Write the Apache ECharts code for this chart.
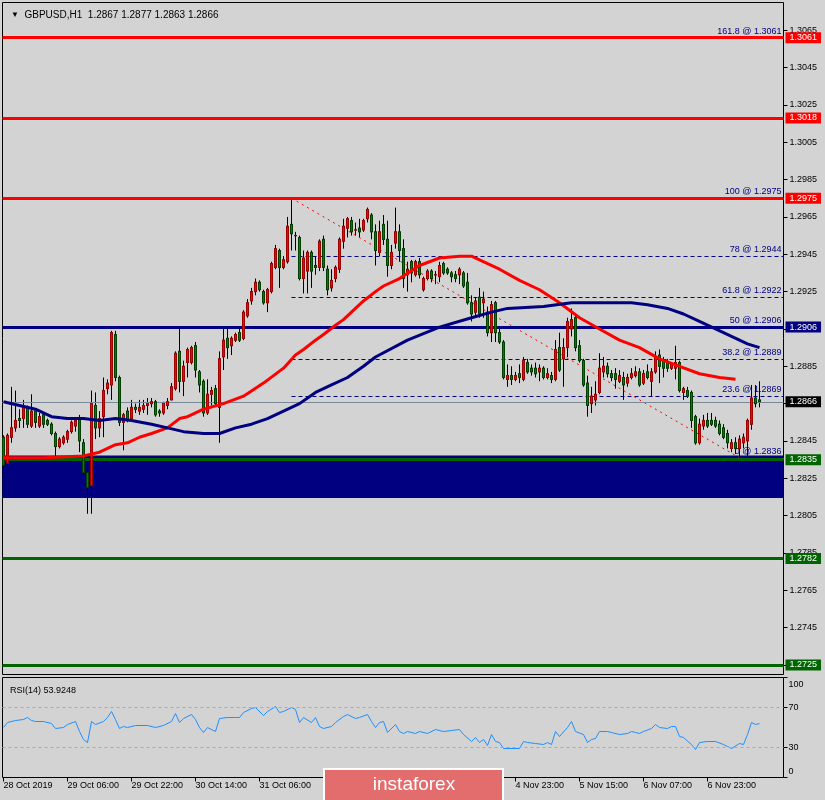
<!DOCTYPE html>
<html><head><meta charset="utf-8">
<script src="https://cdn.jsdelivr.net/npm/echarts@6/dist/echarts.min.js"></script>
<style>html,body{margin:0;padding:0;background:#d3d3d3}#c{width:825px;height:800px}</style>
</head><body><div id="c"></div>
<script>
const symbol = 'GBPUSD,H1';
// H1 bars: [open, close, low, high]
const bars = [
[1.2847,1.2832,1.2828,1.2848],[1.2833,1.2848,1.2828,1.2849],[1.2847,1.2852,1.2844,1.2874],[1.2852,1.2856,1.2850,1.2872],
[1.2857,1.2856,1.2852,1.2862],[1.2857,1.2863,1.2852,1.2867],[1.2863,1.2854,1.2852,1.2864],[1.2853,1.2861,1.2852,1.2870],
[1.2861,1.2855,1.2852,1.2862],[1.2853,1.2858,1.2852,1.2860],[1.2859,1.2854,1.2852,1.2860],[1.2856,1.2854,1.2853,1.2857],
[1.2854,1.2849,1.2848,1.2855],[1.2849,1.2842,1.2834,1.2850],[1.2842,1.2846,1.2841,1.2847],[1.2844,1.2847,1.2843,1.2848],
[1.2846,1.2850,1.2844,1.2851],[1.2850,1.2855,1.2849,1.2856],[1.2853,1.2856,1.2850,1.2857],[1.2857,1.2845,1.2839,1.2859],
[1.2844,1.2828,1.2826,1.2846],[1.2828,1.2820,1.2806,1.2838],[1.2821,1.2865,1.2806,1.2872],[1.2864,1.2852,1.2846,1.2871],
[1.2852,1.2857,1.2847,1.2861],[1.2858,1.2872,1.2847,1.2879],[1.2873,1.2876,1.2870,1.2878],[1.2875,1.2903,1.2867,1.2904],
[1.2902,1.2879,1.2877,1.2904],[1.2879,1.2855,1.2853,1.2880],[1.2855,1.2859,1.2840,1.2860],[1.2861,1.2856,1.2855,1.2863],
[1.2857,1.2863,1.2856,1.2867],[1.2863,1.2862,1.2860,1.2865],[1.2861,1.2863,1.2859,1.2867],[1.2862,1.2864,1.2860,1.2867],
[1.2864,1.2865,1.2859,1.2868],[1.2865,1.2866,1.2863,1.2868],[1.2866,1.2859,1.2858,1.2867],[1.2861,1.2860,1.2858,1.2862],
[1.2860,1.2865,1.2859,1.2866],[1.2864,1.2866,1.2862,1.2868],[1.2867,1.2874,1.2867,1.2876],[1.2873,1.2892,1.2872,1.2893],
[1.2893,1.2877,1.2871,1.2905],[1.2877,1.2885,1.2869,1.2888],[1.2887,1.2894,1.2879,1.2895],[1.2887,1.2895,1.2886,1.2896],
[1.2896,1.2883,1.2879,1.2898],[1.2882,1.2875,1.2871,1.2883],[1.2877,1.2860,1.2858,1.2878],[1.2860,1.2870,1.2859,1.2878],
[1.2870,1.2872,1.2864,1.2874],[1.2873,1.2865,1.2864,1.2875],[1.2863,1.2889,1.2844,1.2893],[1.2890,1.2899,1.2883,1.2906],
[1.2900,1.2895,1.2889,1.2905],[1.2896,1.2900,1.2891,1.2901],[1.2899,1.2902,1.2898,1.2903],[1.2903,1.2899,1.2898,1.2906],
[1.2900,1.2914,1.2899,1.2915],[1.2912,1.2919,1.2911,1.2921],[1.2920,1.2925,1.2918,1.2927],[1.2925,1.2930,1.2923,1.2932],
[1.2930,1.2926,1.2925,1.2931],[1.2925,1.2919,1.2918,1.2926],[1.2919,1.2926,1.2914,1.2927],[1.2925,1.2940,1.2924,1.2941],
[1.2938,1.2948,1.2937,1.2950],[1.2947,1.2938,1.2927,1.2948],[1.2938,1.2942,1.2937,1.2944],[1.2941,1.2960,1.2940,1.2965],
[1.2961,1.2956,1.2947,1.2975],[1.2955,1.2955,1.2947,1.2957],[1.2954,1.2932,1.2931,1.2955],[1.2932,1.2943,1.2924,1.2947],
[1.2936,1.2946,1.2924,1.2947],[1.2946,1.2936,1.2927,1.2947],[1.2939,1.2938,1.2934,1.2944],[1.2938,1.2952,1.2936,1.2953],
[1.2953,1.2938,1.2936,1.2955],[1.2937,1.2926,1.2923,1.2939],[1.2927,1.2931,1.2925,1.2937],[1.2932,1.2938,1.2930,1.2939],
[1.2937,1.2953,1.2935,1.2954],[1.2952,1.2960,1.2948,1.2964],[1.2959,1.2964,1.2954,1.2965],[1.2963,1.2957,1.2955,1.2965],
[1.2958,1.2958,1.2955,1.2962],[1.2959,1.2957,1.2954,1.2964],[1.2958,1.2963,1.2957,1.2964],[1.2964,1.2969,1.2962,1.2970],
[1.2966,1.2957,1.2953,1.2967],[1.2957,1.2947,1.2939,1.2961],[1.2946,1.2957,1.2944,1.2963],[1.2961,1.2953,1.2950,1.2966],
[1.2953,1.2939,1.2933,1.2963],[1.2939,1.2946,1.2937,1.2950],[1.2951,1.2957,1.2948,1.2970],[1.2957,1.2947,1.2941,1.2961],
[1.2948,1.2932,1.2927,1.2953],[1.2934,1.2937,1.2925,1.2941],[1.2941,1.2935,1.2930,1.2942],[1.2934,1.2941,1.2933,1.2942],
[1.2941,1.2934,1.2932,1.2943],[1.2926,1.2932,1.2925,1.2933],[1.2932,1.2936,1.2931,1.2937],[1.2936,1.2932,1.2930,1.2937],
[1.2934,1.2934,1.2929,1.2936],[1.2933,1.2939,1.2930,1.2941],[1.2940,1.2935,1.2934,1.2941],[1.2937,1.2935,1.2934,1.2938],
[1.2935,1.2933,1.2930,1.2936],[1.2934,1.2932,1.2930,1.2936],[1.2934,1.2937,1.2929,1.2938],[1.2935,1.2928,1.2927,1.2936],
[1.2930,1.2919,1.2918,1.2935],[1.2919,1.2913,1.2909,1.2923],[1.2914,1.2920,1.2911,1.2922],[1.2922,1.2913,1.2911,1.2927],
[1.2919,1.2921,1.2911,1.2925],[1.2914,1.2903,1.2901,1.2917],[1.2903,1.2918,1.2898,1.2920],[1.2919,1.2903,1.2898,1.2920],
[1.2903,1.2898,1.2897,1.2905],[1.2898,1.2879,1.2878,1.2899],[1.2878,1.2880,1.2874,1.2886],[1.2880,1.2878,1.2875,1.2885],
[1.2878,1.2880,1.2877,1.2882],[1.2881,1.2879,1.2876,1.2886],[1.2878,1.2888,1.2877,1.2890],[1.2887,1.2882,1.2881,1.2889],
[1.2884,1.2882,1.2880,1.2886],[1.2884,1.2881,1.2879,1.2887],[1.2882,1.2884,1.2877,1.2886],[1.2884,1.2879,1.2878,1.2885],
[1.2879,1.2881,1.2878,1.2884],[1.2880,1.2878,1.2876,1.2882],[1.2878,1.2894,1.2877,1.2899],[1.2895,1.2883,1.2882,1.2903],
[1.2889,1.2895,1.2874,1.2900],[1.2895,1.2909,1.2890,1.2911],[1.2905,1.2910,1.2901,1.2916],[1.2911,1.2895,1.2893,1.2913],
[1.2896,1.2888,1.2887,1.2899],[1.2888,1.2875,1.2874,1.2889],[1.2876,1.2864,1.2858,1.2880],[1.2865,1.2869,1.2860,1.2874],
[1.2867,1.2870,1.2864,1.2877],[1.2871,1.2884,1.2870,1.2892],[1.2882,1.2885,1.2879,1.2890],[1.2885,1.2881,1.2879,1.2887],
[1.2881,1.2879,1.2877,1.2883],[1.2881,1.2878,1.2873,1.2884],[1.2877,1.2880,1.2876,1.2883],[1.2879,1.2875,1.2867,1.2882],
[1.2876,1.2879,1.2874,1.2881],[1.2879,1.2881,1.2878,1.2884],[1.2880,1.2882,1.2879,1.2885],[1.2882,1.2875,1.2874,1.2884],
[1.2876,1.2881,1.2875,1.2883],[1.2882,1.2879,1.2878,1.2886],[1.2877,1.2882,1.2869,1.2884],[1.2882,1.2890,1.2881,1.2893],
[1.2891,1.2885,1.2876,1.2894],[1.2888,1.2884,1.2879,1.2890],[1.2887,1.2884,1.2882,1.2889],[1.2884,1.2886,1.2883,1.2887],
[1.2884,1.2887,1.2878,1.2896],[1.2887,1.2872,1.2871,1.2888],[1.2871,1.2873,1.2867,1.2874],[1.2872,1.2869,1.2868,1.2874],
[1.2871,1.2856,1.2852,1.2872],[1.2858,1.2844,1.2843,1.2859],[1.2844,1.2854,1.2843,1.2857],[1.2853,1.2856,1.2851,1.2859],
[1.2856,1.2853,1.2852,1.2860],[1.2856,1.2854,1.2853,1.2860],[1.2856,1.2853,1.2852,1.2858],[1.2854,1.2849,1.2848,1.2856],
[1.2852,1.2847,1.2846,1.2854],[1.2849,1.2844,1.2841,1.2851],[1.2841,1.2844,1.2839,1.2846],[1.2844,1.2841,1.2838,1.2847],
[1.2841,1.2846,1.2836,1.2848],[1.2844,1.2847,1.2841,1.2849],[1.2845,1.2856,1.2837,1.2857],[1.2854,1.2868,1.2851,1.2875],
[1.2868,1.2865,1.2863,1.2875],[1.2867,1.2866,1.2863,1.2877]
];
// moving averages as [bar index, price]
const maRed = [[0,1.2836],[10,1.2836],[20,1.2837],[24,1.2839],[26,1.2841],[28,1.2843],[31,1.2844],[34,1.2847],[37,1.2849],[41,1.2852],[44,1.2857],[46,1.2858],[50,1.2862],[55,1.2865],[60,1.2869],[65,1.2876],[70,1.2884],[73,1.2891],[75,1.2894],[78,1.2899],[80,1.2902],[83,1.2907],[85,1.2910],[88,1.2916],[90,1.2920],[93,1.2925],[95,1.2928],[99,1.2932],[104,1.2939],[109,1.2943],[114,1.2944],[117,1.2944],[119,1.2942],[124,1.2937],[129,1.2931],[134,1.2926],[139,1.2919],[144,1.2911],[149,1.2905],[154,1.2899],[159,1.2895],[164,1.2889],[169,1.2885],[174,1.2881],[179,1.2879],[183,1.2878]];
const maNavy = [[0,1.2866],[4,1.2864],[8,1.2862],[12,1.2858],[16,1.2857],[20,1.2857],[24,1.2856],[28,1.2857],[32,1.2856],[37,1.2854],[41,1.2852],[45,1.2850],[50,1.2849],[54,1.2849],[58,1.2852],[62,1.2854],[66,1.2857],[70,1.2861],[74,1.2865],[78,1.2871],[82,1.2875],[86,1.2879],[90,1.2885],[93,1.2890],[101,1.2899],[109,1.2906],[117,1.2911],[122,1.2914],[126,1.2916],[135,1.2917],[142,1.2919],[149,1.2919],[157,1.2919],[161,1.2918],[166,1.2916],[170,1.2913],[174,1.2909],[178,1.2905],[182,1.2901],[186,1.2897],[189,1.2895]];
// RSI(14) as [bar index, value]
const rsi = [[0,50],[1,55],[3,57],[5,58],[6,60],[7,57],[8,56],[10,56],[12,54],[13,49],[15,50],[16,53],[18,56],[19,46],[20,38],[21,35],[22,56],[23,53],[25,56],[26,60],[27,66],[28,58],[29,49],[30,51],[31,50],[33,52],[36,52],[38,50],[40,52],[42,56],[43,64],[44,55],[45,59],[47,63],[48,58],[49,50],[50,45],[51,50],[53,46],[54,59],[56,60],[58,60],[59,60],[60,65],[62,69],[63,70],[65,62],[66,66],[68,71],[69,65],[70,66],[72,70],[73,68],[74,55],[75,60],[77,55],[78,60],[79,51],[80,49],[82,51],[83,55],[85,61],[86,63],[88,59],[89,60],[91,63],[92,56],[93,50],[94,55],[95,56],[96,45],[98,53],[99,46],[100,44],[101,46],[103,44],[104,46],[106,44],[108,48],[110,46],[112,47],[114,48],[115,43],[117,36],[118,40],[119,35],[120,38],[121,32],[122,43],[123,36],[124,35],[125,29],[129,29],[130,36],[131,35],[133,34],[135,33],[136,35],[137,33],[138,46],[139,41],[141,50],[142,56],[143,46],[145,43],[146,35],[147,38],[148,39],[149,46],[151,46],[152,45],[154,43],[156,44],[157,46],[158,45],[159,44],[160,46],[162,49],[163,53],[164,50],[166,49],[167,51],[168,51],[169,41],[170,40],[172,33],[173,28],[174,35],[176,36],[178,36],[180,33],[181,31],[182,29],[184,34],[185,33],[186,43],[187,55],[188,53],[189,53.9248]];
const rsiLast = 53.9248;
const timeTickIdx = [0,16,32,48,64,80,96,112,128,144,160,176];
const timeTickLabels = ['28 Oct 2019','29 Oct 06:00','29 Oct 22:00','30 Oct 14:00','31 Oct 06:00','31 Oct 22:00','1 Nov 14:00','4 Nov 07:00','4 Nov 23:00','5 Nov 15:00','6 Nov 07:00','6 Nov 23:00'];
const priceTicks = [1.2725,1.2745,1.2765,1.2785,1.2805,1.2825,1.2845,1.2865,1.2885,1.2905,1.2925,1.2945,1.2965,1.2985,1.3005,1.3025,1.3045,1.3065];
const rsiTicks = [0,30,70,100];
const rsiLevels = [70,30];
const redLevels = [1.3061,1.3018,1.2975];
const navyLevels = [1.2906];
const greenLevels = [1.2835,1.2782,1.2725];
const lastPrice = 1.2866;
const zoneTop = 1.28372, zoneBottom = 1.28145;
const fibLevels = ['161.8','100','78','61.8','50','38.2','23.6','0'];
const fibPrices = [1.3061,1.2975,1.2944,1.2922,1.2906,1.2889,1.2869,1.2836];
const fibFrom = 72, fibTo = 184;

const F = '"Liberation Sans", Arial, sans-serif';
const xMin = -0.25, xMax = 195;
const yMin = 1.271992, yMax = 1.307985;

const chart = echarts.init(document.getElementById('c'), null, {renderer:'canvas'});
function lvl(v, color, width, box) {
  return [
    {coord: [xMin, v], lineStyle: {color: color, width: width, type: 'solid'},
     label: {show: true, position: 'end', formatter: v.toFixed(4), backgroundColor: box || color,
       color: '#ffffff', fontSize: 9, fontFamily: F, lineHeight: 11, padding: [0,4,0,4], distance: 2}},
    {coord: [xMax, v]}
  ];
}
const fibLines = fibLevels.map((lv, i) => [
  {coord: [fibFrom, fibPrices[i]],
   lineStyle: {color: i === fibLevels.length - 1 ? '#eeeeee' : '#000080', width: 1, type: [4,3]},
   label: {show: true, position: 'insideEndTop', formatter: lv + ' @ ' + fibPrices[i].toFixed(4),
     color: '#000080', fontSize: 9, fontFamily: F, distance: [2,2]}},
  {coord: [xMax, fibPrices[i]]}
]);
fibLines.push([
  {coord: [fibFrom, fibPrices[1]], lineStyle: {color: '#ff0000', width: 1, type: [2,4]}, label: {show: false}},
  {coord: [fibTo, fibPrices[fibPrices.length - 1]]}
]);
const last = bars[bars.length - 1];
const option = {
  backgroundColor: '#d3d3d3',
  animation: false,
  title: [
    {text: '{t|▼}  ' + symbol + '  ' + last[0].toFixed(4) + ' ' + last[3].toFixed(4) + ' ' + last[2].toFixed(4) + ' ' + last[1].toFixed(4),
     left: 6, top: 5, textStyle: {fontSize: 10, fontFamily: F, fontWeight: 'normal', color: '#000', rich: {t: {fontSize: 8, fontFamily: F, color: '#000'}}}},
    {text: 'RSI(14) ' + rsiLast.toFixed(4), left: 5, top: 681, textStyle: {fontSize: 9, fontFamily: F, fontWeight: 'normal', color: '#000'}}
  ],
  grid: [
    {left: 2.5, top: 2.5, width: 781, height: 672, show: true, borderColor: '#000', borderWidth: 1, backgroundColor: 'transparent'},
    {left: 2.5, top: 677.5, width: 781, height: 100, show: true, borderColor: '#000', borderWidth: 1, backgroundColor: 'transparent'}
  ],
  xAxis: [
    {gridIndex: 0, type: 'value', min: xMin, max: xMax, show: false, axisLine: {onZero: false}},
    {gridIndex: 1, type: 'value', min: xMin, max: xMax, position: 'bottom',
     axisLine: {show: false, onZero: false}, splitLine: {show: false},
     axisTick: {show: true, customValues: timeTickIdx, length: 4, lineStyle: {color: '#000'}},
     axisLabel: {customValues: timeTickIdx, formatter: v => timeTickLabels[timeTickIdx.indexOf(v)] || '',
       align: 'left', fontSize: 9, fontFamily: F, color: '#000', margin: 4}}
  ],
  yAxis: [
    {gridIndex: 0, type: 'value', position: 'right', min: yMin, max: yMax,
     axisLine: {show: false, onZero: false}, splitLine: {show: false},
     axisTick: {show: true, customValues: priceTicks, length: 4, lineStyle: {color: '#000'}},
     axisLabel: {customValues: priceTicks, formatter: v => v.toFixed(4), fontSize: 9, fontFamily: F, color: '#000', margin: 6}},
    {gridIndex: 1, type: 'value', position: 'right', min: 0, max: 100,
     axisLine: {show: false, onZero: false}, splitLine: {show: false},
     axisTick: {show: true, customValues: rsiTicks, length: 4, lineStyle: {color: '#000'}},
     axisLabel: {customValues: rsiTicks, fontSize: 9, fontFamily: F, color: '#000', margin: 5,
       formatter: v => v === 100 ? '{t|100}' : (v === 0 ? '{b|0}' : '{n|' + v + '}'),
       rich: {t: {padding: [14,0,0,0], fontSize: 9, fontFamily: F}, b: {padding: [0,0,11,0], fontSize: 9, fontFamily: F}, n: {fontSize: 9, fontFamily: F}}}}
  ],
  series: [
    {type: 'line', name: 'zone', xAxisIndex: 0, yAxisIndex: 0, data: [], z: 1, silent: true,
     markArea: {silent: true, itemStyle: {color: '#000080', opacity: 1}, data: [[{coord: [xMin, zoneTop]}, {coord: [xMax, zoneBottom]}]]}},
    {type: 'line', name: 'fib', xAxisIndex: 0, yAxisIndex: 0, data: [], z: 2, silent: true,
     markLine: {symbol: ['none','none'], silent: true, data: fibLines}},
    {type: 'line', name: 'levels', xAxisIndex: 0, yAxisIndex: 0, data: [], z: 3, silent: true,
     markLine: {symbol: ['none','none'], silent: true, data: [
       ...redLevels.map(v => lvl(v, '#ff0000', 3)),
       ...navyLevels.map(v => lvl(v, '#000080', 3)),
       ...greenLevels.map(v => lvl(v, '#006400', 3)),
       lvl(lastPrice, '#778899', 1, '#000000')
     ]}},
    {type: 'candlestick', name: symbol, xAxisIndex: 0, yAxisIndex: 0, z: 4,
     data: bars.map((b, i) => [i, b[0], b[1], b[2], b[3]]),
     encode: {x: 0, y: [1,2,3,4]},
     barWidth: 2,
     itemStyle: {color: '#000000', color0: '#000000', borderColor: '#000000', borderColor0: '#000000', borderWidth: 1}},
    {type: 'candlestick', name: symbol + ' bodies', xAxisIndex: 0, yAxisIndex: 0, z: 5,
     data: bars.map((b, i) => [i, b[0], b[1], Math.min(b[0], b[1]), Math.max(b[0], b[1])]),
     encode: {x: 0, y: [1,2,3,4]},
     barWidth: 2,
     itemStyle: {color: '#ff0000', color0: '#008000', borderColor: '#a00000', borderColor0: '#004000', borderWidth: 1}},
    {type: 'line', name: 'MA red', xAxisIndex: 0, yAxisIndex: 0, z: 6, data: maRed, symbol: 'none', showSymbol: false,
     lineStyle: {color: '#ff0000', width: 3}},
    {type: 'line', name: 'MA navy', xAxisIndex: 0, yAxisIndex: 0, z: 6, data: maNavy, symbol: 'none', showSymbol: false,
     lineStyle: {color: '#000080', width: 3}},
    {type: 'line', name: 'RSI', xAxisIndex: 1, yAxisIndex: 1, z: 3, data: rsi, symbol: 'none', showSymbol: false,
     lineStyle: {color: '#1e90ff', width: 1},
     markLine: {symbol: ['none','none'], silent: true, label: {show: false},
       lineStyle: {color: '#a9a9a9', type: [3,3], width: 1}, data: rsiLevels.map(v => ({yAxis: v}))}}
  ],
  graphic: [
    {type: 'group', left: 323, top: 768, z: 100, zlevel: 1, children: [
      {type: 'rect', z: 100, zlevel: 1, shape: {x: 0, y: 0, width: 179, height: 36}, style: {fill: '#e36d6d', stroke: '#ffffff', lineWidth: 2}},
      {type: 'text', z: 101, zlevel: 1, style: {text: 'instaforex', x: 90, y: 16, fill: '#ffffff', font: '19px "Liberation Sans", Arial, sans-serif', textAlign: 'center', textVerticalAlign: 'middle'}}
    ]}
  ]
};
chart.setOption(option);
</script>
</body></html>
